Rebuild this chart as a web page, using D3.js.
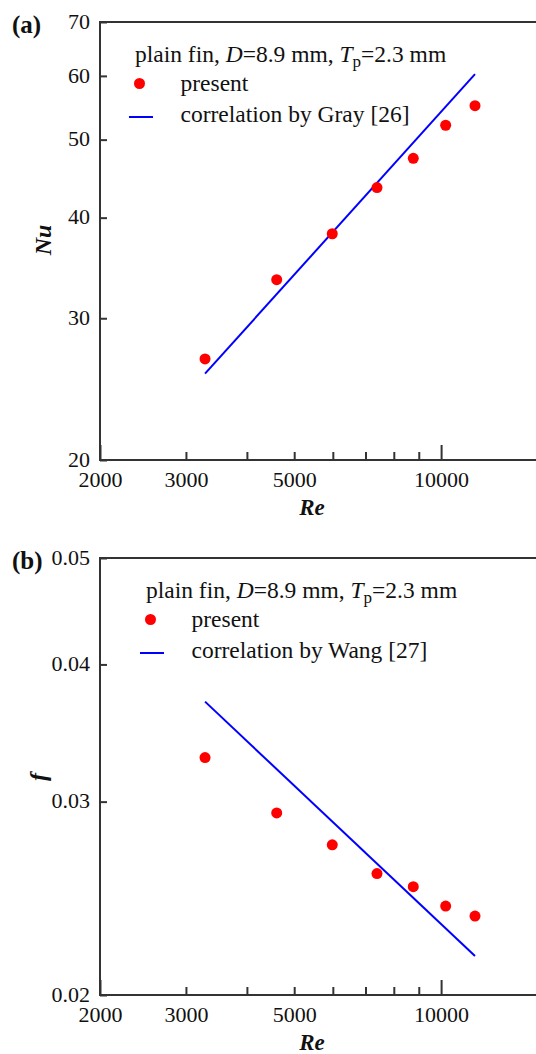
<!DOCTYPE html>
<html>
<head>
<meta charset="utf-8">
<script src="https://cdn.jsdelivr.net/npm/d3@7"></script>
<style>
  body { margin: 0; background: #fff; }
  svg { display: block; font-family: "Liberation Serif", "Times New Roman", serif; }
</style>
</head>
<body>
<svg id="chart" width="536" height="1054"></svg>
<script>
// data
var reValues = [3283, 4604, 5984, 7390, 8770, 10218, 11735];
var nuPresent = [26.7, 33.5, 38.2, 43.6, 47.4, 52.1, 55.1];
var fPresent = [0.0329, 0.0293, 0.0274, 0.0258, 0.0251, 0.0241, 0.0236];

// correlation lines (straight in log-log, so just the two ends)
var reCorrelation = [3283, 11735];
var nuGray = [25.6, 60.3];
var fWang = [0.0370, 0.0217];

// ticks
var reTicks = [2000, 3000, 4000, 5000, 6000, 7000, 8000, 9000, 10000, 20000];
var reLabels = [2000, 3000, 5000, 10000];
var reMajor = [2000, 10000, 20000];
var nuTicks = [20, 30, 40, 50, 60, 70];
var fTicks = [0.02, 0.03, 0.04, 0.05];

var svg = d3.select('#chart');
var axisColor = '#333';
var serif = '"Liberation Serif", "Times New Roman", serif';

/**
 * drawPanel - one log-log panel
 */
function drawPanel(p) {
  var x = d3.scaleLog().domain([2000, 20000]).range([100, 588]);
  var y = d3.scaleLog().domain(p.yDomain).range([p.bottom, p.top]);

  var g = svg.append('g');

  // frame (right side falls outside the page)
  g.append('rect')
    .attr('x', x.range()[0])
    .attr('y', p.top)
    .attr('width', x.range()[1] - x.range()[0])
    .attr('height', p.bottom - p.top)
    .attr('fill', 'none')
    .attr('stroke', axisColor)
    .attr('stroke-width', 2);

  // x axis
  var xAxis = g.append('g')
    .attr('transform', 'translate(0,' + p.bottom + ')')
    .call(d3.axisBottom(x)
      .tickValues(reTicks)
      .tickSizeInner(-8)
      .tickSizeOuter(0)
      .tickPadding(11)
      .tickFormat(function (d) { return reLabels.indexOf(d) >= 0 ? d : ''; }))
    .attr('font-family', serif)
    .attr('font-size', 22);
  xAxis.select('.domain').remove();
  xAxis.selectAll('.tick line')
    .attr('stroke', axisColor)
    .attr('stroke-width', 2)
    .attr('y2', function (d) { return reMajor.indexOf(d) >= 0 ? -15 : -8; });
  xAxis.selectAll('.tick text')
    .attr('fill', '#111');

  // y axis
  var yAxis = g.append('g')
    .attr('transform', 'translate(100,0)')
    .call(d3.axisLeft(y)
      .tickValues(p.yTicks)
      .tickSizeInner(-7)
      .tickSizeOuter(0)
      .tickPadding(10)
      .tickFormat(p.yFormat))
    .attr('font-family', serif)
    .attr('font-size', 22);
  yAxis.select('.domain').remove();
  yAxis.selectAll('.tick line')
    .attr('stroke', axisColor)
    .attr('stroke-width', 2);
  yAxis.selectAll('.tick text')
    .attr('fill', '#111')
    .attr('dy', '0.28em');

  // correlation line
  var line = d3.line()
    .x(function (d) { return x(d[0]); })
    .y(function (d) { return y(d[1]); });
  g.append('path')
    .datum(d3.zip(reCorrelation, p.corr))
    .attr('d', line)
    .attr('fill', 'none')
    .attr('stroke', '#0000ff')
    .attr('stroke-width', 2);

  // present points
  g.selectAll('circle.pt')
    .data(d3.zip(reValues, p.present))
    .enter()
    .append('circle')
    .attr('class', 'pt')
    .attr('cx', function (d) { return x(d[0]); })
    .attr('cy', function (d) { return y(d[1]); })
    .attr('r', 5.5)
    .attr('fill', '#ff0000');

  // legend
  var lg = g.append('g').attr('transform', 'translate(' + p.legend[0] + ',' + p.legend[1] + ')');
  var t = lg.append('text')
    .attr('x', 0).attr('y', 0)
    .style('font-size', '23.5px')
    .attr('fill', '#111');
  t.append('tspan').text('plain fin, ');
  t.append('tspan').style('font-style', 'italic').text('D');
  t.append('tspan').text('=8.9 mm, ');
  t.append('tspan').style('font-style', 'italic').text('T');
  t.append('tspan').attr('dy', 5).style('font-size', '17px').text('p');
  t.append('tspan').attr('dy', -5).text('=2.3 mm');

  lg.append('circle')
    .attr('cx', 4.5).attr('cy', 22)
    .attr('r', 5.5)
    .attr('fill', '#ff0000');
  lg.append('text')
    .attr('x', 45.5).attr('y', 29)
    .style('font-size', '23.5px')
    .attr('fill', '#111')
    .text('present');

  lg.append('line')
    .attr('x1', -6).attr('x2', 18)
    .attr('y1', 55.5).attr('y2', 55.5)
    .attr('stroke', '#0000ff')
    .attr('stroke-width', 2);
  lg.append('text')
    .attr('x', 45.5).attr('y', 60)
    .style('font-size', '23.5px')
    .attr('fill', '#111')
    .text(p.corrLabel);

  // axis titles
  g.append('text')
    .attr('x', 312).attr('y', p.bottom + 55)
    .attr('text-anchor', 'middle')
    .style('font-size', '23px')
    .style('font-weight', 'bold')
    .style('font-style', 'italic')
    .attr('fill', '#111')
    .text('Re');

  g.append('text')
    .attr('transform', 'translate(' + p.yTitle[0] + ',' + p.yTitle[1] + ') rotate(-90)')
    .attr('text-anchor', 'middle')
    .style('font-size', '24px')
    .style('font-weight', 'bold')
    .style('font-style', 'italic')
    .attr('fill', '#111')
    .text(p.yLabel);

  // panel tag
  g.append('text')
    .attr('x', 12).attr('y', p.top + 11)
    .style('font-size', '25px')
    .style('font-weight', 'bold')
    .attr('fill', '#111')
    .text(p.tag);
}

drawPanel({
  tag: '(a)',
  top: 22, bottom: 460,
  yDomain: [20, 70],
  yTicks: nuTicks,
  yFormat: function (d) { return d; },
  present: nuPresent,
  corr: nuGray,
  corrLabel: 'correlation by Gray [26]',
  legend: [135, 61.5],
  yLabel: 'Nu',
  yTitle: [51, 240]
});

drawPanel({
  tag: '(b)',
  top: 558, bottom: 995,
  yDomain: [0.02, 0.05],
  yTicks: fTicks,
  yFormat: function (d) { return d.toFixed(2); },
  present: fPresent,
  corr: fWang,
  corrLabel: 'correlation by Wang [27]',
  legend: [146, 597.5],
  yLabel: 'f',
  yTitle: [46, 777]
});
</script>
</body>
</html>
